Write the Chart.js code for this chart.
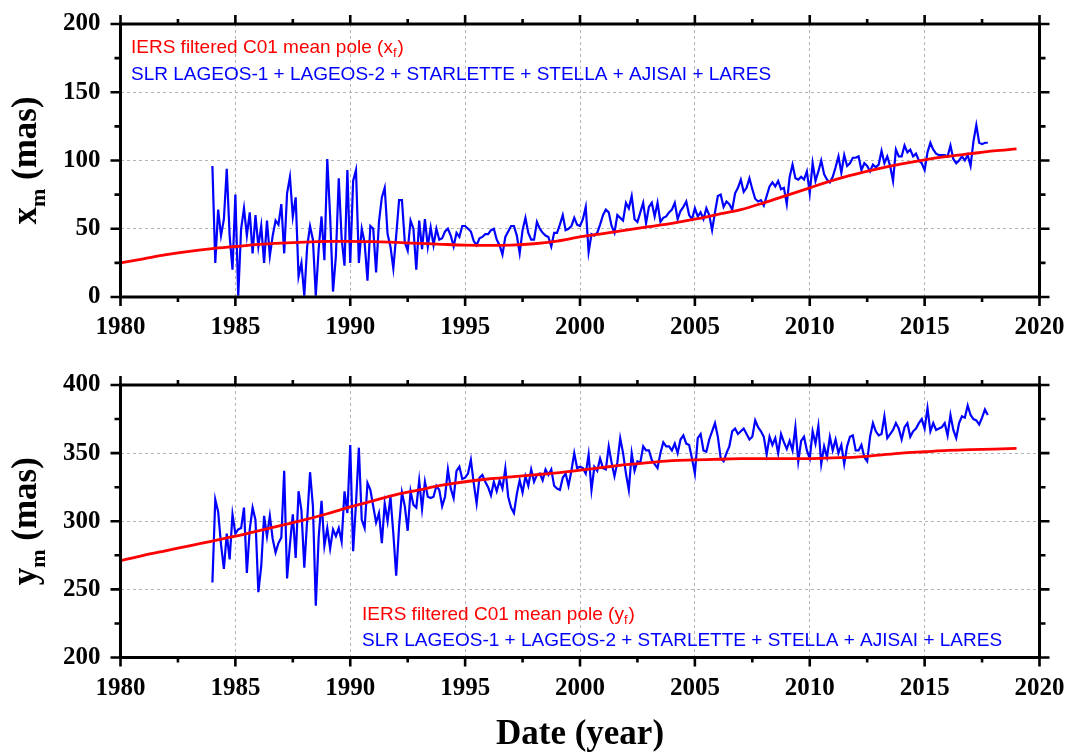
<!DOCTYPE html>
<html>
<head>
<meta charset="utf-8">
<script src="https://cdn.jsdelivr.net/npm/chart.js@4.4.0/dist/chart.umd.min.js"></script>
<style>
  html, body { margin: 0; padding: 0; background: #fff; }
  #wrap { position: relative; width: 1066px; height: 752px; }
  canvas { position: absolute; left: 0; }
  #topChart { top: 0; }
  #botChart { top: 340px; }
</style>
</head>
<body>
<div id="wrap">
  <canvas id="topChart" width="1066" height="340"></canvas>
  <canvas id="botChart" width="1066" height="412"></canvas>
</div>
<script>
/*------- DATA -------*/
// SLR series: 8 samples per year starting 1984.0 (one row per year)
const slrStart = 1984;
const slrPerYear = 8;

const xmSlr = [
  96, 25, 64, 45, 57, 94, 45, 20,
  75, 1, 50, 65, 45, 62, 32, 60,
  37, 52, 25, 56, 30, 45, 56, 53,
  68, 32, 76, 88, 59, 73, 15, 25,
  1, 37, 52, 42, 1, 35, 59, 27,
  101, 59, 4, 30, 87, 43, 23, 93,
  25, 85, 93, 25, 50, 40, 12, 52,
  50, 18, 55, 73, 80, 46, 37, 21,
  45, 71, 71, 40, 34, 56, 50, 20,
  56, 35, 57, 37, 51, 38, 50, 42,
  43, 48, 50, 45, 37, 47, 44, 52,
  52, 50, 48, 41, 38, 43, 44, 46,
  46, 49, 50, 42, 38, 31, 44, 48,
  52, 52, 45, 32, 49, 58, 47, 42,
  42, 55, 50, 47, 45, 44, 37, 47,
  47, 53, 60, 49, 50, 52, 58, 53,
  52, 57, 66, 33, 46, 45, 47, 53,
  60, 64, 62, 52, 47, 60, 58, 56,
  69, 65, 74, 57, 55, 62, 69, 54,
  66, 69, 59, 69, 55, 58, 59, 62,
  64, 69, 57, 63, 66, 70, 60, 57,
  65, 59, 62, 57, 65, 60, 49, 62,
  74, 75, 66, 70, 68, 64, 76, 80,
  86, 77, 80, 87, 79, 72, 70, 71,
  67, 74, 81, 84, 81, 85, 79, 80,
  68, 88, 97, 87, 86, 88, 86, 92,
  76, 98, 85, 92, 100, 90, 86, 84,
  88, 95, 103, 91, 104, 96, 98, 102,
  102, 103, 93, 98, 96, 92, 97, 95,
  97, 107, 98, 103, 96, 85, 108, 103,
  103, 111, 106, 108, 103, 105, 100, 98,
  93, 106, 113, 108, 105, 104, 104, 104,
  103, 111, 101, 98, 100, 103, 100, 104,
  96, 114, 126, 113, 112, 113, 113
];

const ymSlr = [
  255, 316, 307, 283, 265, 291, 272, 305,
  291, 294, 295, 310, 262, 294, 310, 301,
  248, 267, 304, 289, 304, 287, 277, 284,
  288, 337, 258, 283, 305, 273, 322, 308,
  266, 301, 336, 311, 238, 288, 315, 282,
  295, 280, 294, 289, 295, 285, 322, 306,
  356, 278, 313, 354, 301, 295, 328, 323,
  311, 299, 306, 284, 313, 300, 318, 291,
  260, 296, 321, 311, 293, 322, 312, 310,
  330, 309, 329, 318, 317, 318, 326, 323,
  311, 318, 338, 324, 317, 337, 340, 331,
  332, 335, 345, 328, 313, 332, 334, 329,
  325, 319, 329, 322, 330, 324, 339, 318,
  310, 306, 320, 330, 321, 333, 326, 338,
  329, 334, 335, 330, 338, 334, 338, 326,
  324, 323, 332, 335, 326, 337, 350, 339,
  340, 339, 335, 349, 323, 340, 337, 346,
  339, 338, 355, 343, 333, 343, 361, 350,
  335, 323, 350, 337, 344, 343, 355, 352,
  352, 345, 342, 339, 350, 358, 355, 355,
  352, 357, 350, 360, 363, 357, 356, 346,
  335, 361, 364, 352, 351, 360, 366, 372,
  362, 346, 344, 350, 355, 366, 368, 364,
  366, 368, 364, 360, 362, 374, 369, 366,
  362, 349, 362, 356, 361, 350, 364, 358,
  353, 359, 352, 369, 344, 359, 362, 352,
  346, 366, 357, 370, 342, 355, 347, 362,
  352, 360, 350, 356, 342, 355, 362, 363,
  352, 352, 356, 347, 344, 362, 372, 366,
  363, 364, 377, 361, 364, 367, 372, 368,
  360, 369, 372, 362, 366, 368, 372, 375,
  368, 383, 366, 372, 367, 368, 369, 372,
  363, 378, 367, 361, 372, 377, 376, 385,
  378, 375, 374, 371, 376, 382, 378
];

// IERS filtered mean pole, yearly
const meanYears = [1980, 1981, 1982, 1983, 1984, 1985, 1986, 1987, 1988, 1989,
  1990, 1991, 1992, 1993, 1994, 1995, 1996, 1997, 1998, 1999,
  2000, 2001, 2002, 2003, 2004, 2005, 2006, 2007, 2008, 2009,
  2010, 2011, 2012, 2013, 2014, 2015, 2016, 2017, 2018, 2019];
const xfMean = [25, 28, 31, 33.5, 35.5, 37, 38.5, 39.5, 40.2, 40.7,
  40.8, 40.5, 40, 39.3, 38.6, 38, 37.8, 38, 39, 41,
  44, 46.5, 49, 51.5, 54, 57, 60.5, 64, 69, 74.5,
  80, 85.5, 90, 94, 97.5, 100.5, 103, 105, 107, 108.5];
const yfMean = [271, 275, 278.5, 282, 285.5, 289, 293, 297, 301, 305.5,
  310.5, 315, 319.5, 323, 326.5, 329, 331, 332.5, 334, 335.5,
  337.5, 339.5, 341.5, 343, 344.5, 345, 345.5, 346, 346, 346,
  346, 346.5, 347, 348.5, 350, 351, 352, 352.5, 353, 353.5];

const slrLabel = "SLR LAGEOS-1 + LAGEOS-2 + STARLETTE + STELLA + AJISAI + LARES";

const slrPoints = (vals) => vals.map((v, i) => ({ x: slrStart + i / slrPerYear, y: v }));
const meanPoints = (vals) => vals.map((v, i) => ({ x: meanYears[i], y: v }));

const SERIF = '"Liberation Serif", "Times New Roman", serif';
const SANS = '"Liberation Sans", Arial, sans-serif';

/*------- FRAME, TICKS, TITLES -------*/
const framePlugin = {
  id: 'frame',
  afterDraw(chart, args, o) {
    const { ctx, chartArea: a, scales: { x, y } } = chart;
    ctx.save();
    ctx.strokeStyle = '#000';
    ctx.lineWidth = 2.6;
    ctx.beginPath();
    for (let v = 1980; v <= 2020; v += 2.5) {
      const px = x.getPixelForValue(v);
      const len = v % 5 === 0 ? 9 : 5;
      ctx.moveTo(px, a.bottom); ctx.lineTo(px, a.bottom + len);
      ctx.moveTo(px, a.top); ctx.lineTo(px, a.top - len);
    }
    for (let v = y.min; v <= y.max; v += 25) {
      const py = y.getPixelForValue(v);
      const len = (v - y.min) % 50 === 0 ? 10 : 6;
      ctx.moveTo(a.left, py); ctx.lineTo(a.left - len, py);
      ctx.moveTo(a.right, py); ctx.lineTo(a.right + len, py);
    }
    ctx.stroke();
    ctx.lineWidth = 3;
    ctx.strokeRect(a.left, a.top, a.right - a.left, a.bottom - a.top);

    // y title with subscript m
    ctx.fillStyle = '#000';
    ctx.textBaseline = 'alphabetic';
    ctx.translate(36, (a.top + a.bottom) / 2);
    ctx.rotate(-Math.PI / 2);
    const big = 'bold 35px ' + SERIF, small = 'bold 22px ' + SERIF;
    ctx.font = big; const w1 = ctx.measureText(o.letter).width;
    const w3 = ctx.measureText(' (mas)').width;
    ctx.font = small; const w2 = ctx.measureText('m').width;
    let sx = -(w1 + w2 + w3) / 2;
    ctx.font = big; ctx.fillText(o.letter, sx, 0); sx += w1;
    ctx.font = small; ctx.fillText('m', sx, 9); sx += w2;
    ctx.font = big; ctx.fillText(' (mas)', sx, 0);
    ctx.setTransform(1, 0, 0, 1, 0, 0);

    // legend texts
    const lf = '19px ' + SANS, sf = '13px ' + SANS;
    let lx = o.legX;
    const red = 'IERS filtered C01 mean pole (' + o.letter;
    ctx.fillStyle = '#ff0000';
    ctx.font = lf; ctx.fillText(red, lx, o.legY1); lx += ctx.measureText(red).width;
    ctx.font = sf; ctx.fillText('f', lx, o.legY1 + 4); lx += ctx.measureText('f').width + 1;
    ctx.font = lf; ctx.fillText(')', lx, o.legY1);
    ctx.fillStyle = '#0000ff';
    ctx.fillText(slrLabel, o.legX, o.legY2);

    if (o.xTitle) {
      ctx.fillStyle = '#000';
      ctx.font = 'bold 35px ' + SERIF;
      ctx.textAlign = 'center';
      ctx.fillText(o.xTitle, (a.left + a.right) / 2, o.xTitleY);
    }
    ctx.restore();
  }
};

function makeChart(id, slrVals, meanVals, yMin, yMax, xAxisHeight, padTop, frameOpts) {
  return new Chart(document.getElementById(id), {
    type: 'line',
    data: {
      datasets: [
        {
          data: meanPoints(meanVals),
          borderColor: '#ff0000',
          borderWidth: 2.8,
          pointRadius: 0,
          cubicInterpolationMode: 'monotone',
          fill: false
        },
        {
          data: slrPoints(slrVals),
          borderColor: '#0000ff',
          borderWidth: 2.2,
          pointRadius: 0,
          tension: 0,
          fill: false
        }
      ]
    },
    options: {
      responsive: false,
      animation: false,
      layout: { padding: { left: 0, right: 26.5, top: padTop, bottom: 0 } },
      plugins: { legend: { display: false }, tooltip: { enabled: false }, frame: frameOpts },
      scales: {
        x: {
          type: 'linear',
          min: 1980,
          max: 2020,
          ticks: {
            stepSize: 5,
            autoSkip: false,
            maxRotation: 0,
            padding: 0,
            color: '#000',
            font: { family: SERIF, size: 25, weight: 'bold' },
            callback: (v) => String(v)
          },
          // invisible tick marks only push the labels away from the axis
          grid: { color: '#b4b4b4', lineWidth: 1, drawTicks: true, tickLength: 16, tickColor: 'rgba(0,0,0,0)' },
          border: { display: false, dash: [3, 3] },
          afterFit: (s) => { s.height = xAxisHeight; }
        },
        y: {
          min: yMin,
          max: yMax,
          ticks: {
            stepSize: 50,
            padding: 0,
            color: '#000',
            font: { family: SERIF, size: 25, weight: 'bold' },
            callback: (v) => String(v)
          },
          grid: { color: '#b4b4b4', lineWidth: 1, drawTicks: true, tickLength: 20, tickColor: 'rgba(0,0,0,0)' },
          border: { display: false, dash: [3, 3] },
          afterFit: (s) => { s.width = 120.5; }
        }
      }
    },
    plugins: [framePlugin]
  });
}

makeChart('topChart', xmSlr, xfMean, 0, 200, 43, 24,
  { letter: 'x', legX: 131, legY1: 53, legY2: 80 });
makeChart('botChart', ymSlr, yfMean, 200, 400, 94.5, 45,
  { letter: 'y', legX: 362, legY1: 280, legY2: 306, xTitle: 'Date (year)', xTitleY: 404 });
</script>
</body>
</html>
